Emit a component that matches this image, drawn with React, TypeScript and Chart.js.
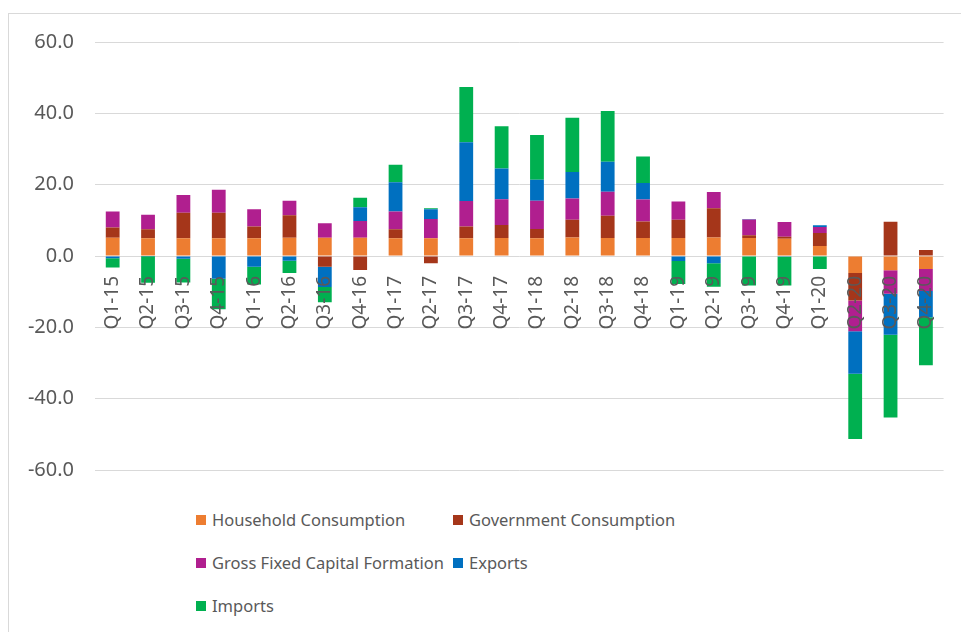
import React, { useEffect, useRef } from "react";
import { Chart, registerables } from "chart.js";

Chart.register(...registerables);

const categories = [
  "Q1-15", "Q2-15", "Q3-15", "Q4-15", "Q1-16", "Q2-16", "Q3-16", "Q4-16",
  "Q1-17", "Q2-17", "Q3-17", "Q4-17", "Q1-18", "Q2-18", "Q3-18", "Q4-18",
  "Q1-19", "Q2-19", "Q3-19", "Q4-19", "Q1-20", "Q2-20", "Q3-20", "Q4-20",
];

const household = [5.1, 5.0, 5.0, 5.0, 5.0, 5.1, 5.1, 5.1, 5.0, 5.0, 5.0, 5.05, 5.0, 5.2, 5.05, 5.05, 5.05, 5.2, 5.05, 4.85, 2.8, -4.8, -4.0, -3.65];
const government = [2.9, 2.5, 7.1, 7.1, 3.3, 6.3, -3.0, -3.9, 2.5, -2.0, 3.3, 3.65, 2.6, 4.95, 6.25, 4.6, 5.1, 8.2, 0.75, 0.55, 3.65, -7.65, 9.6, 1.7];
const gfcf = [4.5, 4.1, 5.0, 6.5, 4.8, 4.1, 4.1, 4.7, 5.0, 5.4, 7.1, 7.2, 7.9, 6.0, 6.7, 6.2, 5.1, 4.55, 4.4, 4.1, 1.7, -8.65, -6.6, -6.15];
const exportsData = [-0.6, -0.1, -0.8, -6.4, -3.0, -1.3, -5.7, 3.9, 8.2, 2.7, 16.5, 8.6, 5.9, 7.4, 8.45, 4.6, -1.4, -2.0, 0.2, -0.2, 0.5, -11.9, -11.5, -7.4];
const importsData = [-2.6, -7.4, -6.6, -8.5, -5.0, -3.5, -4.3, 2.6, 4.9, 0.3, 15.5, 11.9, 12.5, 15.2, 14.2, 7.45, -6.45, -6.6, -8.3, -8.1, -3.65, -18.3, -23.2, -13.4];

const seriesNames = [
  "Household Consumption",
  "Government Consumption",
  "Gross Fixed Capital Formation",
  "Exports",
  "Imports",
];
const seriesColors = ["#ED7D31", "#A5361A", "#B01F8F", "#0070C0", "#00B050"];
const seriesValues = [household, government, gfcf, exportsData, importsData];

const yTicks = [-60, -40, -20, 0, 20, 40, 60];

const FONT = "'Noto Sans', sans-serif";
const TEXT = "#595959";

export default function App() {
  const canvasRef = useRef<HTMLCanvasElement | null>(null);

  useEffect(() => {
    if (!canvasRef.current) return;
    const chart = new Chart(canvasRef.current, {
      type: "bar",
      data: {
        labels: categories,
        datasets: seriesNames.map((name, i) => ({
          label: name,
          data: seriesValues[i],
          backgroundColor: seriesColors[i],
          borderWidth: 0,
          barPercentage: 0.39,
          categoryPercentage: 1,
        })),
      },
      options: {
        responsive: false,
        animation: false,
        layout: { padding: { left: 0, right: 14, top: 34, bottom: 18 } },
        plugins: {
          legend: { display: false },
          tooltip: { enabled: false },
        },
        scales: {
          x: {
            stacked: true,
            position: { y: 0 } as any,
            grid: { display: false, drawTicks: false },
            border: { display: false },
            ticks: {
              z: 1,
              autoSkip: false,
              minRotation: 90,
              maxRotation: 90,
              padding: 20,
              color: TEXT,
              font: { family: FONT, size: 19 },
            },
          },
          y: {
            stacked: true,
            min: yTicks[0],
            max: yTicks[yTicks.length - 1],
            afterBuildTicks: (scale: any) => {
              scale.ticks = yTicks.map((v) => ({ value: v }));
            },
            afterFit: (scale: any) => {
              scale.width = 87;
            },
            grid: { color: "#D9D9D9", lineWidth: 1, drawTicks: false },
            border: { display: false },
            ticks: {
              padding: 21,
              color: TEXT,
              font: { family: FONT, size: 20 },
              callback: (v: any) => Number(v).toFixed(1),
            },
          },
        },
      },
    });
    return () => chart.destroy();
  }, []);

  const legendPos = [
    { left: 188, top: 500 },
    { left: 445, top: 500 },
    { left: 188, top: 543 },
    { left: 445, top: 543 },
    { left: 188, top: 586 },
  ];

  return (
    <div style={{ position: "relative", width: 961, height: 624, fontFamily: FONT }}>
      <div
        style={{
          position: "absolute",
          left: 0,
          top: 5,
          right: 0,
          bottom: 0,
          borderLeft: "1px solid #D9D9D9",
          borderTop: "1px solid #D9D9D9",
        }}
      />
      <canvas
        ref={canvasRef}
        width={961}
        height={495}
        style={{ position: "absolute", left: 0, top: 0, width: 961, height: 495 }}
      />
      {seriesNames.map((name, i) => (
        <div
          key={name}
          style={{
            position: "absolute",
            left: legendPos[i].left,
            top: legendPos[i].top,
            display: "flex",
            alignItems: "center",
            whiteSpace: "nowrap",
            color: TEXT,
            fontSize: 16.5,
            lineHeight: "24px",
          }}
        >
          <span
            style={{
              display: "inline-block",
              width: 10,
              height: 10,
              background: seriesColors[i],
              marginRight: 6,
            }}
          />
          {name}
        </div>
      ))}
    </div>
  );
}
